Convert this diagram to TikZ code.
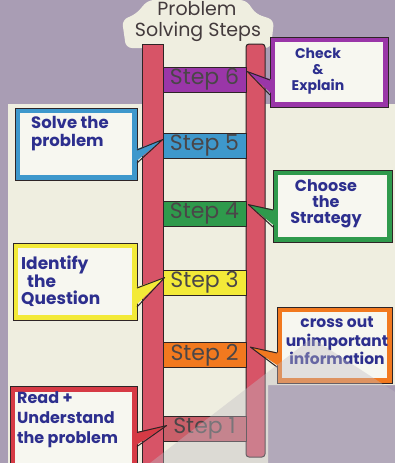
\documentclass[tikz,border=0pt]{standalone}
\usepackage{fontspec}
\setmainfont{Poppins}
\usetikzlibrary{calc}

\definecolor{wall}{HTML}{A99DB4}
\definecolor{paper}{HTML}{EFEEE0}
\definecolor{boxwhite}{HTML}{F7F7F0}
\definecolor{ink}{HTML}{2E2426}
\definecolor{railred}{HTML}{D75467}
\definecolor{marker}{HTML}{2D2F8E}
\definecolor{steptext}{HTML}{4A4648}
\definecolor{vpurple}{HTML}{9A36A8}
\definecolor{vblue}{HTML}{3E98CC}
\definecolor{vgreen}{HTML}{2F9A4C}
\definecolor{vyellow}{HTML}{F3EA38}
\definecolor{vorange}{HTML}{F2791F}
\definecolor{vred}{HTML}{D63A45}
\definecolor{fadedred}{HTML}{C9606A}
\definecolor{glare}{HTML}{C0BCC4}

\begin{document}
\begin{tikzpicture}[x=1pt,y=-1pt,
  rail/.style={fill=railred, draw=ink, line width=1pt},
  rung/.style={draw=ink, line width=0.8pt, minimum width=83pt, minimum height=25pt,
    inner sep=0pt, text=steptext, font=\fontsize{22}{22}\selectfont},
  frame/.style={fill=boxwhite, line width=5pt, inner sep=0pt},
  rim/.style={draw=ink, line width=1pt},
  tipline/.style={draw=ink, line width=1pt, line join=round},
  note/.style={text=marker, inner sep=0pt},
  title/.style={text=ink!90, inner sep=0pt, font=\fontsize{19}{19}\selectfont},
]
\useasboundingbox (0,0) rectangle (395,463);
\clip (0,0) rectangle (395,463);

% wall and poster sheet
\fill[wall] (0,0) rectangle (395,463);
\fill[paper] (8,104) -- (142,104) -- (142,42) -- (265,42) -- (265,104) -- (395,104)
  -- (395,385) -- (268,385) -- (268,463) -- (8,463) -- cycle;
\fill[paper, rounded corners=6pt] (126,48) -- (122,20) -- (136,14) -- (148,0) -- (246,0)
  -- (256,14) -- (274,20) -- (271,48) -- cycle;

% title
\node[title] (t1) at (197,9) {Problem};
\node[title] (t2) at (198,32) {Solving Steps};

% ladder rails
\draw[rail] (142,44) rectangle (163,470);
\draw[rail, rounded corners=3pt] (246,44) rectangle (265,457);

% rungs
\node[rung, fill=vpurple] (s6) at (204.5,79.5) {Step 6};
\node[rung, fill=vblue]   (s5) at (204.5,145.5) {Step 5};
\node[rung, fill=vgreen]  (s4) at (204.5,213.5) {Step 4};
\node[rung, fill=vyellow] (s3) at (204.5,282.5) {Step 3};
\node[rung, fill=vorange] (s2) at (204.5,355) {Step 2};
\node[rung, fill=fadedred] (s1) at (204.5,428.5) {Step 1};

% pointer tips on the rung ends
\coordinate (p6) at ($(s6.north east)+(1,5)$);
\coordinate (p5) at ($(s5.north west)+(0,7)$);
\coordinate (p4) at ($(s4.north east)+(2,4)$);
\coordinate (p3) at ($(s3.north west)+(2,8)$);
\coordinate (p2) at ($(s2.north east)+(4,5)$);
\coordinate (p1) at ($(s1.north west)+(4,10)$);

% step 6: check and explain
\node[frame, draw=vpurple, minimum width=113pt, minimum height=65pt] (c6) at (329,72) {};
\draw[rim] (c6.north west) rectangle (c6.south east);
\fill[vpurple] ($(c6.north west)+(3,43)$) -- (p6) -- ($(c6.north west)+(3,58)$) -- cycle;
\draw[tipline] ($(c6.north west)+(0,43)$) -- (p6) -- ($(c6.north west)+(0,58)$);
\node[note, align=center, font=\fontsize{14}{16}\selectfont\bfseries] (n6) at (318,71) {Check\\\&\\Explain};

% step 5: solve the problem
\node[frame, draw=vblue, minimum width=117pt, minimum height=67pt] (c5) at (76,144) {};
\draw[rim] (c5.north west) rectangle (c5.south east);
\fill[vblue] ($(c5.north east)+(-3,42)$) -- (p5) -- ($(c5.north east)+(-3,55)$) -- cycle;
\draw[tipline] ($(c5.north east)+(0,42)$) -- (p5) -- ($(c5.north east)+(0,55)$);
\node[note, align=left, anchor=west, font=\fontsize{16.5}{18}\selectfont\bfseries] (n5) at (31,134) {Solve the\\problem};

% step 4: choose the strategy
\node[frame, draw=vgreen, minimum width=114pt, minimum height=67pt] (c4) at (332.5,206) {};
\draw[rim] (c4.north west) rectangle (c4.south east);
\fill[vgreen] ($(c4.north west)+(3,40)$) -- (p4) -- ($(c4.north west)+(3,57)$) -- cycle;
\draw[tipline] ($(c4.north west)+(0,40)$) -- (p4) -- ($(c4.north west)+(0,57)$);
\node[note, align=center, font=\fontsize{16}{16}\selectfont\bfseries] (n4) at (326,204) {Choose\\the\\Strategy};

% step 3: identify the question
\node[frame, draw=vyellow, minimum width=119pt, minimum height=72pt] (c3) at (75,281.5) {};
\draw[rim] (c3.north west) rectangle (c3.south east);
\fill[vyellow] ($(c3.north east)+(-3,45)$) -- (p3) -- ($(c3.north east)+(-3,64)$) -- cycle;
\draw[tipline] ($(c3.north east)+(0,45)$) -- (p3) -- ($(c3.north east)+(0,64)$);
\node[note, align=left, anchor=west, font=\fontsize{17}{17}\selectfont\bfseries] (n3) at (21,281) {Identify\\\hspace*{6pt}the\\Question};

% step 2: cross out unimportant information
\node[frame, draw=vorange, minimum width=110pt, minimum height=71pt] (c2) at (334.5,345) {};
\draw[rim] (c2.north west) rectangle (c2.south east);
\fill[vorange] ($(c2.north west)+(3,46)$) -- (p2) -- ($(c2.north west)+(3,60)$) -- cycle;
\draw[tipline] ($(c2.north west)+(0,46)$) -- (p2) -- ($(c2.north west)+(0,60)$);
\node[note, align=center, font=\fontsize{15.5}{18.5}\selectfont\bfseries] (n2) at (337,341) {cross out\\unimportant\\information};

% step 1: read and understand the problem
\node[frame, draw=vred, minimum width=122pt, minimum height=88pt] (c1) at (73.5,433) {};
\draw[rim] (c1.north west) rectangle (c1.south east);
\fill[vred] ($(c1.north east)+(-3,46)$) -- (p1) -- ($(c1.north east)+(-3,60)$) -- cycle;
\draw[tipline] ($(c1.north east)+(0,46)$) -- (p1) -- ($(c1.north east)+(0,60)$);
\node[note, align=left, anchor=west, font=\fontsize{16}{20}\selectfont\bfseries] (n1) at (17,420) {Read +\\Understand\\the problem};

% light reflection across the lower right
\fill[glare, opacity=0.4] (150,463) -- (312,338) -- (395,392) -- (395,463) -- cycle;
\end{tikzpicture}
\end{document}
